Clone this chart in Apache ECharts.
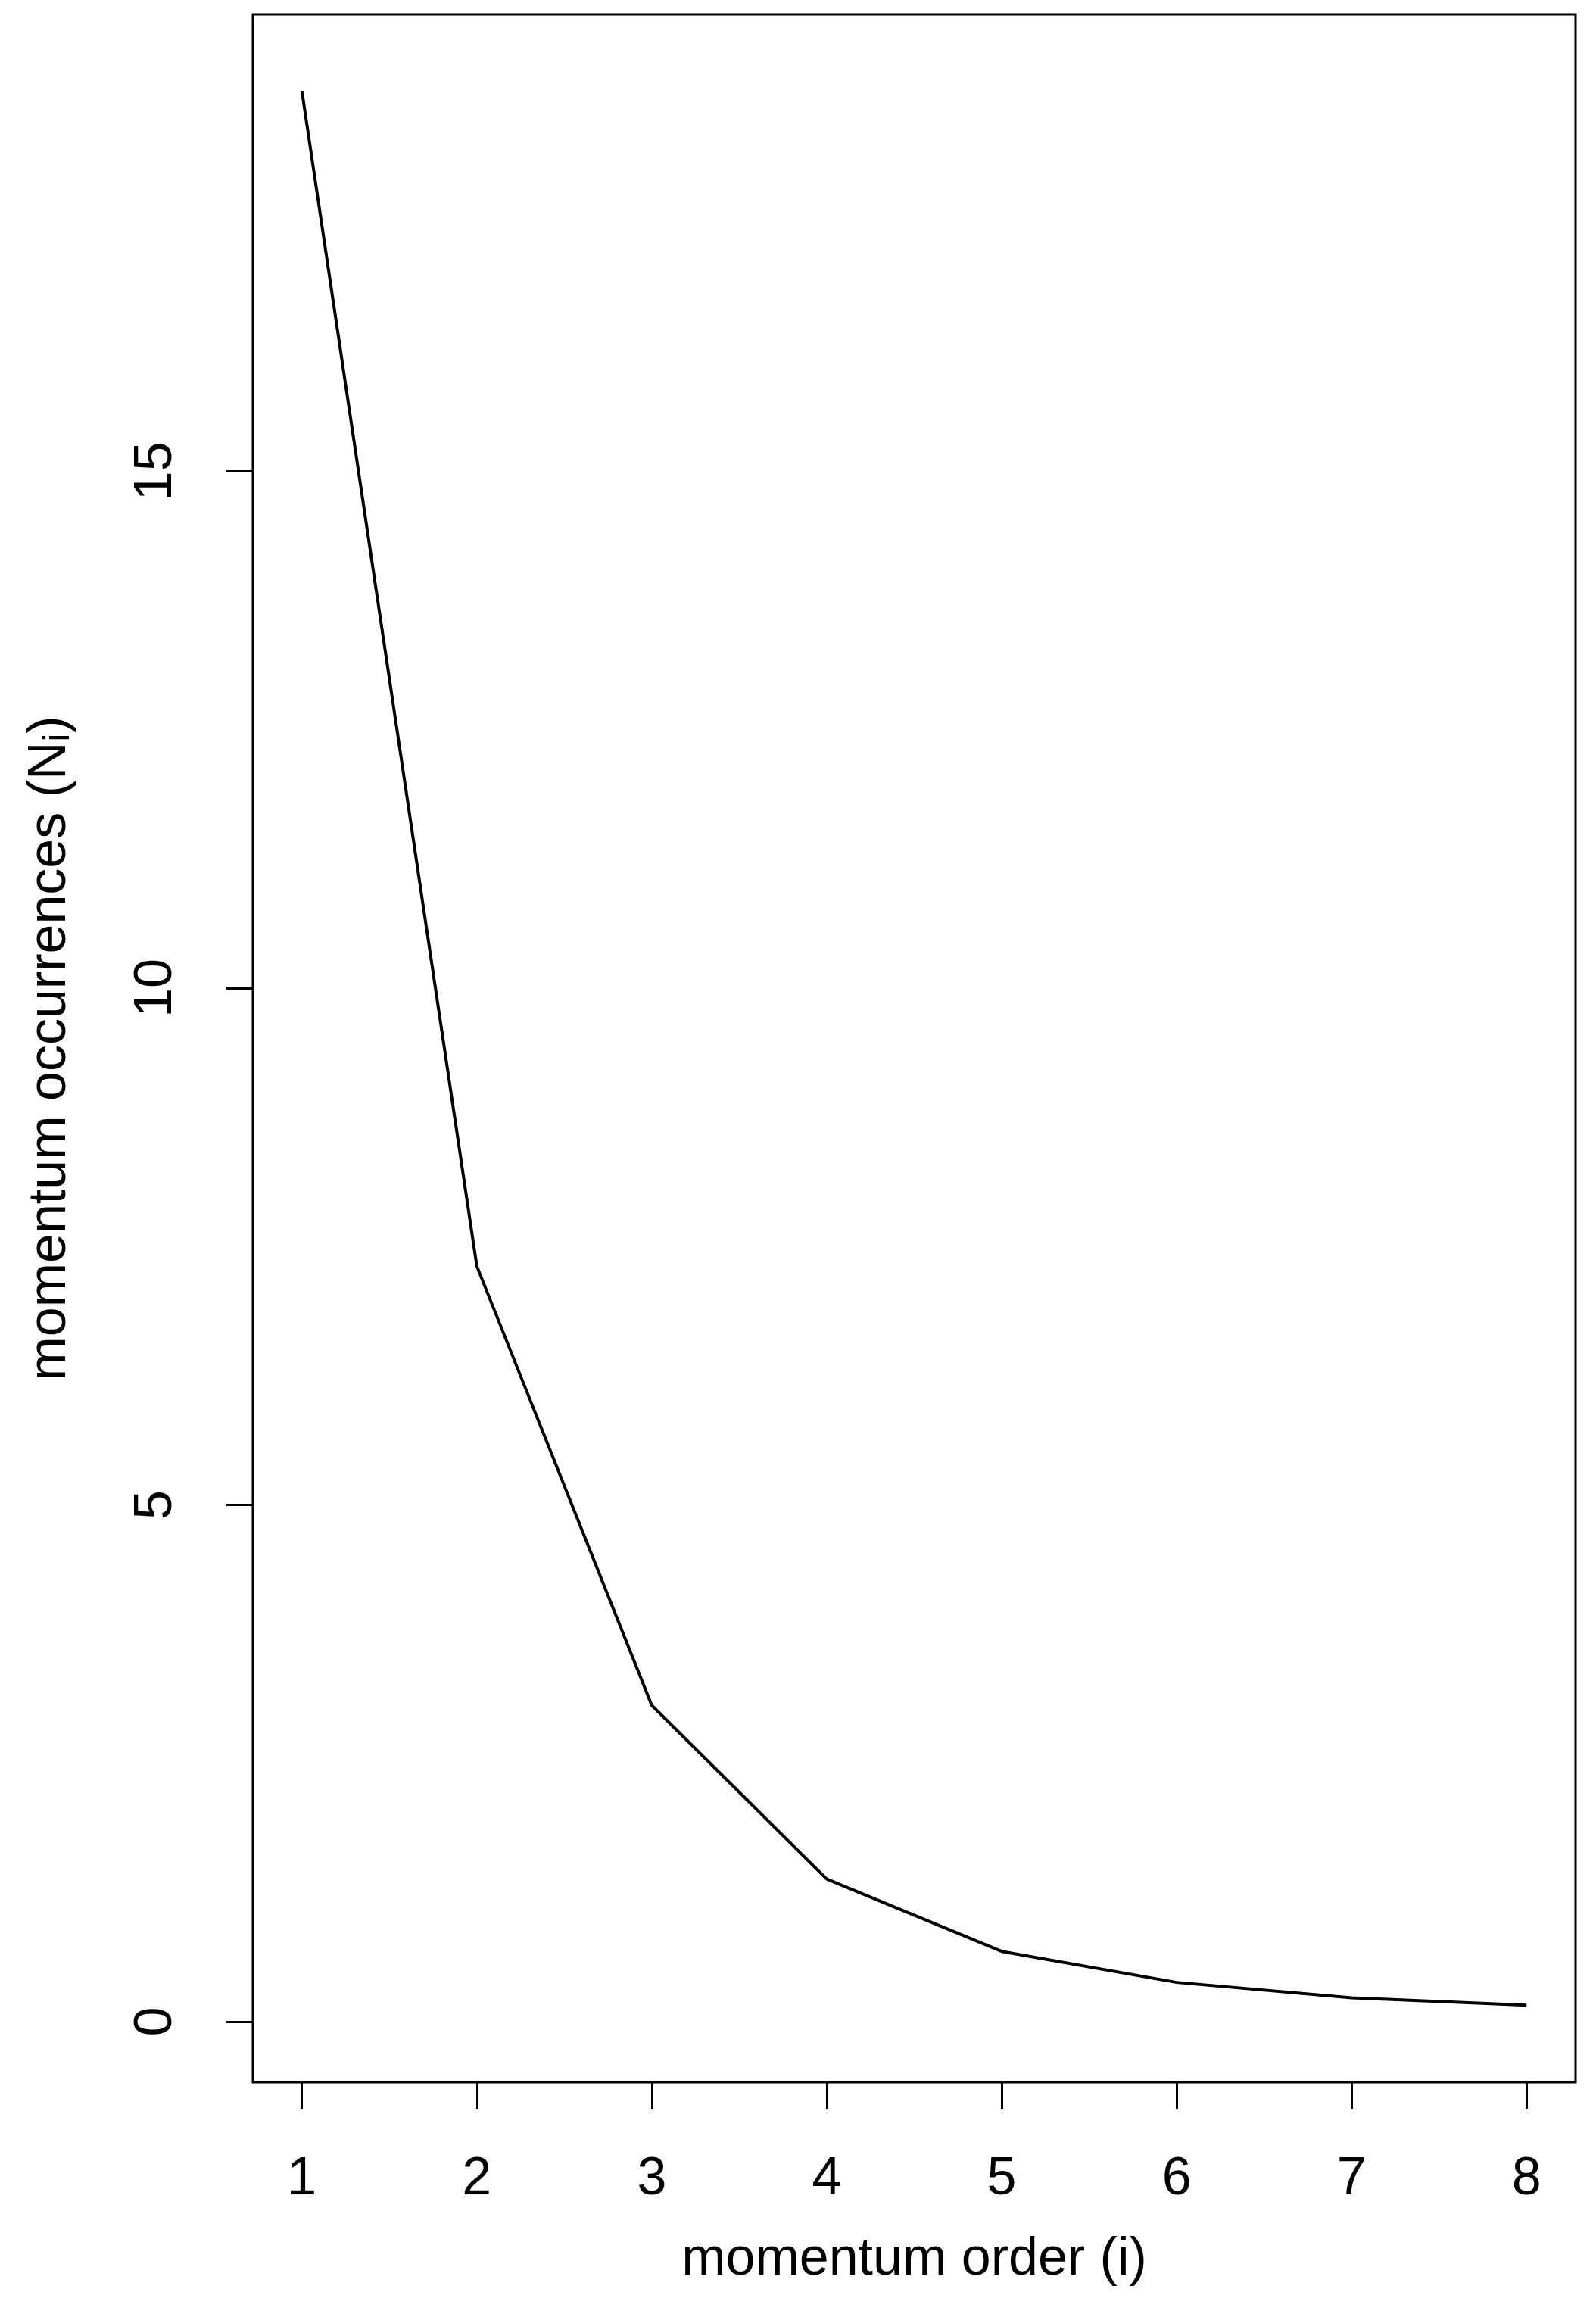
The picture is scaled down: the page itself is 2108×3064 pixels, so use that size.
<!DOCTYPE html>
<html><head><meta charset="utf-8">
<script src="https://cdn.jsdelivr.net/npm/echarts@6/dist/echarts.min.js"></script>
<style>html,body{margin:0;padding:0;background:#fff}#c{width:2108px;height:3064px}</style>
</head><body><div id="c"></div>
<script>
const orders = [1,2,3,4,5,6,7,8];
const occurrences = [18.68,7.31,3.06,1.38,0.68,0.38,0.23,0.16];
const xTicks = [1,2,3,4,5,6,7,8];
const yTicks = [0,5,10,15];
const font = 'Liberation Sans, Arial, sans-serif';
const chart = echarts.init(document.getElementById('c'));
chart.setOption({
  backgroundColor:'#fff',
  animation:false,
  grid:{left:334,right:27,top:19,bottom:314,show:true,borderColor:'#000',borderWidth:3,backgroundColor:'transparent'},
  xAxis:{type:'value',min:0.72,max:8.28,
    name:'momentum order (i)',nameLocation:'middle',nameGap:200,
    nameTextStyle:{fontSize:70,color:'#000',fontFamily:font},
    axisLine:{show:false,onZero:false},splitLine:{show:false},
    axisTick:{show:true,length:35,lineStyle:{color:'#000',width:3},customValues:xTicks},
    axisLabel:{fontSize:70,color:'#000',fontFamily:font,margin:94,customValues:xTicks}},
  yAxis:{type:'value',min:-0.586,max:19.42,
    name:'momentum occurrences (N{s|i})',nameLocation:'middle',nameGap:232,
    nameTextStyle:{fontSize:70,color:'#000',fontFamily:font,rich:{s:{fontSize:48,verticalAlign:'bottom',padding:[22,0,0,0],fontFamily:font}}},
    axisLine:{show:false,onZero:false},splitLine:{show:false},
    axisTick:{show:true,length:35,lineStyle:{color:'#000',width:3},customValues:yTicks},
    axisLabel:{fontSize:70,color:'#000',fontFamily:font,margin:92,rotate:90,customValues:yTicks}},
  series:[{type:'line',data:orders.map((x,i)=>[x,occurrences[i]]),showSymbol:false,
    lineStyle:{color:'#000',width:4}}]
});
</script></body></html>
